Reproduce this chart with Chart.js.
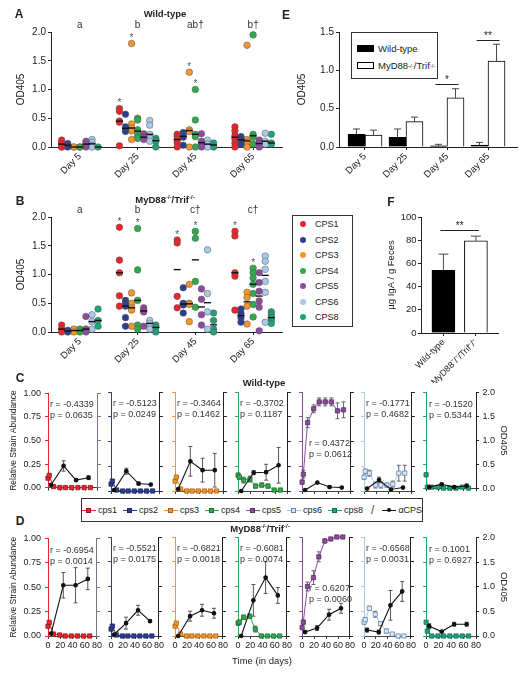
<!DOCTYPE html>
<html>
<head>
<meta charset="utf-8">
<script src="https://cdn.jsdelivr.net/npm/chart.js@4.4.1/dist/chart.umd.min.js"></script>
<style>
  body { margin: 0; background: #fff; font-family: "Liberation Sans", Arial, sans-serif; color: #222; }
  #fig { position: relative; width: 523px; height: 675px; overflow: hidden; }
  #fig canvas { position: absolute; }
  .t { position: absolute; transform: translate(-50%, -50%); white-space: nowrap; font-size: 9.5px; z-index: 2; }
  .b { font-weight: bold; }
  .L { font-weight: bold; font-size: 12px; }
  sup { font-size: 6px; vertical-align: 4px; line-height: 0; }
  .box { position: absolute; border: 1px solid #333; box-sizing: border-box; background: #fff; z-index: 2; font-size: 9px; }
  .row { position: absolute; left: 0; display: flex; align-items: center; white-space: nowrap; }
  .dot { display: inline-block; width: 6px; height: 6px; border-radius: 50%; margin: 0 9px 0 7px; }
  .sw { display: inline-block; width: 17px; height: 7px; box-sizing: border-box; border: 1px solid #000; margin: 0 4px 0 5px; }
  .mk { position: relative; display: inline-block; width: 14px; height: 7px; margin-right: 2px; }
  .mk i { position: absolute; left: 0; right: 0; top: 3px; height: 1px; }
  .mk b { position: absolute; left: 4px; top: 1px; width: 5px; height: 5px; box-sizing: border-box; border: 1px solid; }
  .mk u { position: absolute; left: 5px; top: 1.5px; width: 4px; height: 4px; border-radius: 50%; background: #111; }
</style>
</head>
<body>
<div id="fig">
  <div class="t L" style="left:19px;top:14px">A</div>
  <div class="t b" style="left:165px;top:13px">Wild-type</div>
  <div class="t L" style="left:20px;top:201px">B</div>
  <div class="t b" style="left:165px;top:199px">MyD88<sup>-/-</sup>/Trif<sup>-/-</sup></div>
  <div class="t L" style="left:286px;top:15px">E</div>
  <div class="t L" style="left:391px;top:202px">F</div>
  <div class="t L" style="left:20px;top:378px">C</div>
  <div class="t b" style="left:264px;top:382px">Wild-type</div>
  <div class="t L" style="left:20px;top:521px">D</div>
  <div class="t b" style="left:260px;top:528px">MyD88<sup>-/-</sup>/Trif<sup>-/-</sup></div>
  <div class="t" style="left:262px;top:660px">Time (in days)</div>

  <div class="box" style="left:351px;top:32px;width:87px;height:47px;font-size:9.5px">
    <div class="row" style="top:10px"><span class="sw" style="background:#000"></span>Wild-type</div>
    <div class="row" style="top:27px"><span class="sw" style="background:#fff"></span>MyD88<sup>-/-</sup>/Trif<sup>-/-</sup></div>
  </div>
  <div class="box" id="cpsLegend" style="left:292px;top:215px;width:61px;height:112px"></div>
  <div class="box" id="lineLegend" style="left:81px;top:498px;width:342px;height:24px;display:flex;align-items:center;justify-content:center;gap:6px"></div>
</div>
<script>
// ---- data ----
const days = ['Day 5', 'Day 25', 'Day 45', 'Day 65'];
const strains = ['CPS1', 'CPS2', 'CPS3', 'CPS4', 'CPS5', 'CPS6', 'CPS8'];

// panel A: anti-CPS IgA (OD405) per mouse, wild-type, [day5, day25, day45, day65]
const wtCps1 = [[0.12, 0.08, 0.05, 0.0, 0.0], [0.67, 0.62, 0.45, 0.43, 0.02], [0.22, 0.18, 0.13, 0.08, 0.0], [0.35, 0.28, 0.2, 0.14, 0.07, 0.0]];
const wtCps2 = [[0.06, 0.03, 0.0], [0.57, 0.35, 0.3, 0.27], [0.25, 0.2, 0.17, 0.03], [0.18, 0.15, 0.1, 0.05]];
const wtCps3 = [[0.0, 0.0], [1.8, 0.4, 0.33, 0.28, 0.13], [1.3, 0.3, 0.27, 0.0], [1.77, 0.13, 0.08, 0.0]];
const wtCps4 = [[0.0, 0.0], [0.5, 0.47, 0.3, 0.25, 0.18, 0.15], [1.0, 0.47, 0.22, 0.18, 0.0], [1.95, 0.22, 0.17, 0.05]];
const wtCps5 = [[0.1, 0.05, 0.0], [0.23, 0.17, 0.13], [0.23, 0.1, 0.05, 0.0], [0.12, 0.06, 0.0]];
const wtCps6 = [[0.13, 0.08, 0.03, 0.0], [0.46, 0.38, 0.22, 0.15, 0.1], [0.12, 0.05, 0.0], [0.24, 0.1, 0.05]];
const wtCps8 = [[0.0], [0.15, 0.12, 0.1, 0.0], [0.07, 0.0], [0.22, 0.07, 0.05]];

// panel B: same for MyD88-/-/Trif-/-
const koCps1 = [[0.12, 0.05, 0.0], [1.82, 1.25, 1.03, 0.63, 0.45], [1.6, 1.55, 0.62, 0.42], [1.75, 1.67, 1.03, 0.97, 0.38]];
const koCps2 = [[0.03, 0.0], [0.55, 0.5, 0.45, 0.25, 0.1], [0.77, 0.5, 0.47, 0.33], [0.4, 0.32, 0.25, 0.17]];
const koCps3 = [[0.05, 0.0], [0.68, 0.5, 0.42, 0.38, 0.1], [0.83, 0.5, 0.48, 0.18], [0.69, 0.6, 0.45, 0.14]];
const koCps4 = [[0.05, 0.0], [1.8, 1.08, 0.55, 0.12, 0.05], [1.75, 1.63, 0.88, 0.43], [1.11, 1.03, 0.94, 0.83, 0.67, 0.48, 0.26]];
const koCps5 = [[0.27, 0.05, 0.0], [0.42, 0.38, 0.35, 0.1], [0.75, 0.57, 0.3, 0.12], [1.03, 0.86, 0.71, 0.54, 0.43, 0.02]];
const koCps6 = [[0.3, 0.18, 0.05], [0.2, 0.15, 0.05], [1.43, 0.67, 0.35, 0.05], [1.32, 1.23, 1.09, 0.88, 0.69, 0.17]];
const koCps8 = [[0.4, 0.2, 0.1], [0.12, 0.08, 0.0], [0.33, 0.2, 0.05, 0.0], [0.35, 0.3, 0.25, 0.2, 0.15]];

const wtLetters = ['a', 'b', 'ab†', 'b†'];
const koLetters = ['a', 'b', 'c†', 'c†'];
const wtStars = [[1, 0], [1, 2], [2, 2], [2, 3]];          // [day, strain]
const koStars = [[1, 0], [1, 3], [2, 0], [2, 3], [3, 0], [3, 3]];

// panel E: mean anti-CPS OD405
const eWt = [0.165, 0.125, 0.015, 0.025];
const eWtErr = [0.07, 0.11, 0.02, 0.035];
const eKo = [0.155, 0.33, 0.64, 1.12];
const eKoErr = [0.065, 0.06, 0.12, 0.22];

// panel F: fecal IgA
const fLabels = ['Wild-type', 'MyD88⁻/⁻/Trif⁻/⁻'];
const fValues = [54, 79.5];
const fErrors = [14, 4];

// panels C/D: strain abundance over time and anti-CPS OD405
const strainDays = [0, 2, 9, 19, 28, 38, 48, 58, 68];
const odDays = [5, 25, 45, 65];
const cpsNames = ['cps1', 'cps2', 'cps3', 'cps4', 'cps5', 'cps6', 'cps8'];

const wtAbundance = [
  [0.10, 0.13, 0.01, 0, 0, 0, 0, 0, 0],
  [0.07, 0.10, 0.01, 0, 0, 0, 0, 0, 0],
  [0.10, 0.14, 0.02, 0, 0, 0, 0, 0, 0],
  [0.16, 0.14, 0.11, 0.12, 0.05, 0.06, 0.05, 0.01, 0.01],
  [0.09, 0.17, 0.69, 0.83, 0.90, 0.90, 0.90, 0.81, 0.82],
  [0.14, 0.20, 0.18, 0.06, 0.06, 0.06, 0.07, 0.18, 0.18],
  [0.14, 0.01, 0.01, 0.01, 0, 0, 0, 0.01, 0]
];
const wtAbundanceErr = [
  [0, 0, 0, 0, 0, 0, 0, 0, 0],
  [0, 0, 0, 0, 0, 0, 0, 0, 0],
  [0, 0, 0, 0, 0, 0, 0, 0, 0],
  [0.02, 0.02, 0.03, 0.03, 0.02, 0.02, 0.02, 0, 0],
  [0.02, 0.04, 0.05, 0.04, 0.04, 0.04, 0.04, 0.08, 0.08],
  [0.02, 0.02, 0.03, 0.03, 0.03, 0.02, 0.03, 0.08, 0.08],
  [0, 0, 0, 0, 0, 0, 0, 0, 0]
];
const wtAntiCps = [
  [0.06, 0.46, 0.16, 0.21],
  [0.02, 0.40, 0.15, 0.13],
  [0.04, 0.60, 0.42, 0.42],
  [0.0, 0.37, 0.38, 0.52],
  [0.02, 0.17, 0.08, 0.07],
  [0.05, 0.22, 0.03, 0.07],
  [0.02, 0.08, 0.02, 0.05]
];
const wtAntiCpsErr = [
  [0.02, 0.11, 0.03, 0.04],
  [0, 0.06, 0.03, 0],
  [0, 0.30, 0.24, 0.34],
  [0, 0.04, 0.16, 0.36],
  [0, 0, 0.02, 0],
  [0, 0.06, 0, 0],
  [0, 0.02, 0, 0.02]
];
const wtR = ['-0.4339', '-0.5123', '-0.3464', '-0.3702', '0.4372', '-0.1771', '-0.1520'];
const wtP = ['0.0635', '0.0249', '0.1462', '0.1187', '0.0612', '0.4682', '0.5344'];

const koAbundance = [
  [0.10, 0.14, 0.02, 0.01, 0, 0, 0, 0, 0],
  [0.07, 0.10, 0.01, 0, 0, 0, 0, 0, 0],
  [0.10, 0.13, 0.02, 0, 0, 0, 0, 0, 0],
  [0.13, 0.14, 0.19, 0.20, 0.07, 0, 0, 0, 0],
  [0.085, 0.14, 0.50, 0.59, 0.80, 0.96, 0.98, 1.0, 1.0],
  [0.14, 0.165, 0.28, 0.22, 0.125, 0.05, 0.02, 0, 0],
  [0.14, 0.05, 0, 0, 0, 0, 0, 0, 0]
];
const koAbundanceErr = [
  [0, 0, 0, 0, 0, 0, 0, 0, 0],
  [0, 0, 0, 0, 0, 0, 0, 0, 0],
  [0, 0, 0, 0, 0, 0, 0, 0, 0],
  [0.02, 0.02, 0.02, 0.02, 0.03, 0, 0, 0, 0],
  [0.01, 0.02, 0.045, 0.07, 0.05, 0.02, 0.01, 0, 0],
  [0.02, 0.02, 0.02, 0.03, 0.02, 0.02, 0.01, 0, 0],
  [0, 0, 0, 0, 0, 0, 0, 0, 0]
];
const koAntiCps = [
  [0.05, 1.04, 1.04, 1.17],
  [0.03, 0.26, 0.52, 0.30],
  [0.0, 0.40, 0.52, 0.46],
  [0.0, 0.72, 1.18, 0.82],
  [0.08, 0.16, 0.43, 0.56],
  [0.12, 0.08, 0.62, 0.90],
  [0.20, 0.09, 0.24, 0.24]
];
const koAntiCpsErr = [
  [0.02, 0.26, 0.36, 0.22],
  [0, 0.12, 0.10, 0.02],
  [0, 0.10, 0.12, 0.10],
  [0, 0.32, 0.32, 0.16],
  [0.03, 0.05, 0.11, 0.10],
  [0.04, 0.04, 0.30, 0.20],
  [0.05, 0.01, 0.04, 0.04]
];
const koR = ['-0.6954', '-0.5521', '-0.6821', '-0.6081', '0.6207', '-0.6568', '0.1001'];
const koP = ['0.0014', '0.0175', '0.0018', '0.0074', '0.0060', '0.0031', '0.6927'];

// ---- styles ----
const strainColors = ['#e8262b', '#2c3e92', '#f5962a', '#2faa4e', '#8d4b9f', '#a8c9ea', '#1ea27c'];
const strainEdges = ['#8e1518', '#19245a', '#a9611a', '#1b6e31', '#582d66', '#5f86b0', '#0f6b4f'];
const statPos = [[0.88, 2], [0.88, 2], [0.88, 2], [0.88, 2], [0.475, 7], [0.88, 2], [0.88, 3]];
const axL = [48, 110, 174, 237, 301, 363, 425];
const axR = [99, 161, 225, 289, 352, 413, 476];
const FONT = '"Liberation Sans", Arial, sans-serif';

Chart.defaults.font.family = FONT;
Chart.defaults.font.size = 9;
Chart.defaults.color = '#222';
Chart.defaults.plugins.legend.display = false;
Chart.defaults.plugins.tooltip.enabled = false;
Chart.defaults.animation = false;

const fig = document.getElementById('fig');
function place(left, top, width, height, config) {
  const c = document.createElement('canvas');
  c.width = width; c.height = height;
  c.style.left = left + 'px'; c.style.top = top + 'px';
  c.style.width = width + 'px'; c.style.height = height + 'px';
  fig.appendChild(c);
  config.options.responsive = false;
  config.options.devicePixelRatio = 1;
  return new Chart(c, config);
}

function grid(color, len) {
  return { drawOnChartArea: false, drawTicks: true, tickLength: len, color: color, offset: false };
}
function median(a) {
  const s = [...a].sort((p, q) => p - q), m = s.length >> 1;
  return s.length % 2 ? s[m] : (s[m - 1] + s[m]) / 2;
}

// error bars (drawn behind the marks)
const errorBars = {
  id: 'errorBars',
  beforeDatasetsDraw(chart) {
    const ctx = chart.ctx;
    chart.data.datasets.forEach((ds, i) => {
      if (!ds.errors) return;
      const meta = chart.getDatasetMeta(i);
      const ys = chart.scales[meta.yAxisID];
      ctx.save();
      ctx.strokeStyle = ds.errorColor || '#333';
      ctx.lineWidth = 0.9;
      meta.data.forEach((el, j) => {
        const e = ds.errors[j];
        if (!e) return;
        const raw = ds.data[j];
        const v = typeof raw === 'object' ? raw.y : raw;
        const top = ys.getPixelForValue(v + e);
        const bot = ds.errorUpOnly ? el.y : ys.getPixelForValue(v - e);
        const cap = ds.errorCap || 2;
        ctx.beginPath();
        ctx.moveTo(el.x, top); ctx.lineTo(el.x, bot);
        ctx.moveTo(el.x - cap, top); ctx.lineTo(el.x + cap, top);
        if (!ds.errorUpOnly) { ctx.moveTo(el.x - cap, bot); ctx.lineTo(el.x + cap, bot); }
        ctx.stroke();
      });
      ctx.restore();
    });
  }
};

// group letters + asterisks on the strip plots
const colStep = 0.105;
const colX = (g, s) => g + (s - 3) * colStep;
const stripNotes = {
  id: 'stripNotes',
  afterDatasetsDraw(chart, args, o) {
    const { ctx, chartArea, scales: { x, y } } = chart;
    ctx.save();
    ctx.fillStyle = '#333';
    ctx.textAlign = 'center';
    ctx.textBaseline = 'middle';
    ctx.font = '10px ' + FONT;
    o.letters.forEach((t, g) => ctx.fillText(t, x.getPixelForValue(g), chartArea.top - 7));
    ctx.fillStyle = '#555';
    o.stars.forEach(([g, s]) => {
      const top = Math.max(...o.series[s][g]);
      ctx.fillText('*', x.getPixelForValue(colX(g, s)), y.getPixelForValue(top) - 5);
    });
    ctx.restore();
  }
};

// significance brackets on E and F
const sigMarks = {
  id: 'sig',
  afterDatasetsDraw(chart, args, o) {
    const ctx = chart.ctx;
    ctx.save();
    ctx.strokeStyle = '#222'; ctx.fillStyle = '#222'; ctx.lineWidth = 1;
    ctx.textAlign = 'center'; ctx.textBaseline = 'alphabetic';
    ctx.font = '10px ' + FONT;
    o.marks.forEach(m => {
      const a = chart.getDatasetMeta(m.a[0]).data[m.a[1]];
      const b = chart.getDatasetMeta(m.b[0]).data[m.b[1]];
      const yy = Math.round(chart.scales.y.getPixelForValue(m.v)) + 0.5;
      ctx.beginPath(); ctx.moveTo(a.x - 3, yy); ctx.lineTo(b.x + 3, yy); ctx.stroke();
      ctx.fillText(m.t, (a.x + b.x) / 2, yy - 2);
    });
    ctx.restore();
  }
};

// r / p text in C and D
const statText = {
  id: 'stat',
  afterDraw(chart, args, o) {
    const { ctx, chartArea, scales: { y } } = chart;
    ctx.save();
    ctx.font = '9px ' + FONT; ctx.fillStyle = '#333';
    ctx.textAlign = 'left'; ctx.textBaseline = 'middle';
    const yy = y.getPixelForValue(o.at);
    ctx.fillText('r = ' + o.r, chartArea.left + o.dx, yy);
    ctx.fillText('p = ' + o.p, chartArea.left + o.dx, yy + 11);
    ctx.restore();
  }
};

// ---- panels A and B ----
function stripChart(top, series, letters, stars) {
  const med = [];
  series.forEach((ser, s) => ser.forEach((vals, g) => med.push({ x: colX(g, s), y: median(vals) })));
  const datasets = [{ data: med, pointStyle: 'line', pointRadius: 3.5, pointBorderColor: '#111', pointBorderWidth: 1.4, clip: false }];
  series.forEach((ser, s) => {
    const pts = [];
    ser.forEach((vals, g) => vals.forEach(v => pts.push({ x: colX(g, s), y: v })));
    datasets.push({ data: pts, pointRadius: 3.3, pointBackgroundColor: strainColors[s], pointBorderColor: '#555', pointBorderWidth: 0.5, clip: false });
  });
  place(0, top - 20, 290, 180, {
    type: 'scatter',
    data: { datasets },
    options: {
      layout: { padding: { top: 20, right: 8 } },
      scales: {
        x: {
          type: 'linear', min: -0.5, max: 3.5,
          afterBuildTicks: s => { s.ticks = days.map((d, i) => ({ value: i })); },
          afterFit: s => { s.height = 45; },
          grid: grid('#222', 3), border: { color: '#222' },
          ticks: { callback: (v, i) => days[i], minRotation: 45, maxRotation: 45, autoSkip: false, padding: 1, font: { size: 9.5 } }
        },
        y: {
          min: 0, max: 2,
          afterFit: s => { s.width = 51; },
          grid: grid('#222', 3), border: { color: '#222' },
          ticks: { stepSize: 0.5, callback: v => v.toFixed(1), padding: 2, font: { size: 10 } },
          title: { display: true, text: 'OD405', font: { size: 10 }, padding: { top: 15.5 } }
        }
      },
      plugins: { stripNotes: { letters, stars, series } }
    },
    plugins: [stripNotes]
  });
}
stripChart(32, [wtCps1, wtCps2, wtCps3, wtCps4, wtCps5, wtCps6, wtCps8], wtLetters, wtStars);
stripChart(217, [koCps1, koCps2, koCps3, koCps4, koCps5, koCps6, koCps8], koLetters, koStars);

// ---- panel E ----
place(295, 12, 227, 180, {
  type: 'bar',
  data: {
    datasets: [
      { data: eWt.map((v, i) => ({ x: i, y: v })), backgroundColor: '#000', borderColor: '#000', borderWidth: 1, barThickness: 17, errors: eWtErr, errorUpOnly: true, errorCap: 3.5 },
      { data: eKo.map((v, i) => ({ x: i, y: v })), backgroundColor: '#fff', borderColor: '#000', borderWidth: 1, barThickness: 17, errors: eKoErr, errorUpOnly: true, errorCap: 3.5 }
    ]
  },
  options: {
    layout: { padding: { top: 20, right: 5 } },
    scales: {
      x: {
        type: 'linear', min: -0.634, max: 3.707, offset: false,
        afterBuildTicks: s => { s.ticks = days.map((d, i) => ({ value: i })); },
        afterFit: s => { s.height = 45; },
        grid: grid('#222', 3), border: { color: '#222' },
        ticks: { callback: (v, i) => days[i], minRotation: 45, maxRotation: 45, autoSkip: false, padding: 1, font: { size: 9.5 } }
      },
      y: {
        min: 0, max: 1.5,
        afterFit: s => { s.width = 44; },
        grid: grid('#222', 3), border: { color: '#222' },
        ticks: { stepSize: 0.5, callback: v => v.toFixed(1), padding: 2, font: { size: 10 } },
        title: { display: true, text: 'OD405', font: { size: 10 }, padding: { top: 1 } }
      }
    },
    plugins: { sig: { marks: [{ a: [0, 2], b: [1, 2], v: 0.82, t: '*' }, { a: [0, 3], b: [1, 3], v: 1.40, t: '**' }] } }
  },
  plugins: [errorBars, sigMarks]
});

// ---- panel F ----
place(384, 197, 124, 186, {
  type: 'bar',
  data: {
    datasets: [{ data: fValues.map((v, i) => ({ x: i, y: v })), backgroundColor: ['#000', '#fff'], borderColor: '#000', borderWidth: 1, barThickness: 23, errors: fErrors, errorUpOnly: true, errorCap: 5 }]
  },
  options: {
    layout: { padding: { top: 20, right: 10 } },
    scales: {
      x: {
        type: 'linear', min: -0.69, max: 1.68, offset: false,
        afterBuildTicks: s => { s.ticks = fLabels.map((d, i) => ({ value: i })); },
        afterFit: s => { s.height = 50; },
        grid: grid('#222', 3), border: { color: '#222' },
        ticks: { callback: (v, i) => fLabels[i], minRotation: 45, maxRotation: 45, autoSkip: false, padding: 1, font: { size: 9 } }
      },
      y: {
        min: 0, max: 100,
        afterFit: s => { s.width = 37; },
        grid: grid('#222', 3), border: { color: '#222' },
        ticks: { stepSize: 20, padding: 1.5, font: { size: 9.5 } },
        title: { display: true, text: 'µg IgA / g Feces', font: { size: 9.5 }, padding: { top: 1.5 } }
      }
    },
    plugins: { sig: { marks: [{ a: [0, 0], b: [0, 1], v: 89, t: '**' }] } }
  },
  plugins: [errorBars, sigMarks]
});

// ---- panels C and D ----
function timeRow(top, withLabels, abund, abundErr, anti, antiErr, rs, ps) {
  for (let i = 0; i < 7; i++) {
    const first = i === 0, last = i === 6;
    const yW = first ? 48 : 4, y2W = last ? 45 : 4, xH = withLabels ? 16 : 6;
    const L = axL[i], R = axR[i];
    const rightColor = first ? '#777' : '#222';
    place(L - yW, top - 8, yW + (R - L) + y2W, 8 + 99 + xH, {
      type: 'line',
      data: {
        datasets: [
          {
            data: odDays.map((d, j) => ({ x: d, y: anti[i][j] })), yAxisID: 'y2',
            borderColor: '#111', borderWidth: 1.1, pointRadius: 1.8, pointBackgroundColor: '#111', pointBorderColor: '#111',
            errors: antiErr[i], errorColor: '#444', clip: false
          },
          {
            data: strainDays.map((d, j) => ({ x: d, y: abund[i][j] })), yAxisID: 'y',
            borderColor: strainColors[i], borderWidth: 1, pointStyle: 'rect', pointRadius: 3,
            pointBackgroundColor: i === 5 ? '#dbe8f5' : strainColors[i], pointBorderColor: strainEdges[i], pointBorderWidth: 0.8,
            errors: abundErr[i], errorColor: '#555', clip: false
          }
        ]
      },
      options: {
        layout: { padding: { top: 8 } },
        scales: {
          x: {
            type: 'linear', min: 0, max: 80,
            afterFit: s => { s.height = xH; },
            grid: grid('#333', 3), border: { color: '#444' },
            ticks: { display: withLabels, stepSize: 20, autoSkip: false, maxRotation: 0, padding: 1, font: { size: 9 } }
          },
          y: {
            position: 'left', min: 0, max: 1,
            afterFit: s => { s.width = yW; },
            grid: grid(strainColors[i], 3), border: { color: strainColors[i] },
            ticks: { display: first, stepSize: 0.25, callback: v => v.toFixed(2), padding: 4, font: { size: 9 } },
            title: { display: first, text: 'Relative Strain Abundance', font: { size: 8.5 }, padding: { top: 9 } }
          },
          y2: {
            position: 'right', min: 0, max: 2,
            afterFit: s => { s.width = y2W; },
            grid: grid(rightColor, 3), border: { color: rightColor },
            ticks: { display: last, stepSize: 0.5, callback: v => v.toFixed(1), padding: 3.5, font: { size: 9 } },
            title: { display: last, text: 'OD405', font: { size: 9.5 }, padding: { top: 12 } }
          }
        },
        plugins: { stat: { r: rs[i], p: ps[i], at: statPos[i][0], dx: statPos[i][1] } }
      },
      plugins: [errorBars, statText]
    });
  }
}
timeRow(392, false, wtAbundance, wtAbundanceErr, wtAntiCps, wtAntiCpsErr, wtR, wtP);
timeRow(537, true, koAbundance, koAbundanceErr, koAntiCps, koAntiCpsErr, koR, koP);

// ---- HTML legends ----
const cpsLegend = document.getElementById('cpsLegend');
strains.forEach((s, i) => {
  const r = document.createElement('div');
  r.className = 'row';
  r.style.top = (3 + i * 15.5) + 'px';
  r.innerHTML = `<span class="dot" style="background:${strainColors[i]}"></span>${s}`;
  cpsLegend.appendChild(r);
});
const lineLegend = document.getElementById('lineLegend');
cpsNames.forEach((n, i) => {
  const fill = i === 5 ? '#dbe8f5' : strainColors[i];
  lineLegend.insertAdjacentHTML('beforeend',
    `<span style="display:flex;align-items:center"><span class="mk"><i style="background:${strainColors[i]}"></i><b style="background:${fill};border-color:${strainEdges[i]}"></b></span>${n}</span>`);
});
lineLegend.insertAdjacentHTML('beforeend', '<span style="font-size:12px;color:#444;margin:0 2px">/</span>');
lineLegend.insertAdjacentHTML('beforeend',
  '<span style="display:flex;align-items:center"><span class="mk"><i style="background:#111"></i><u></u></span>αCPS</span>');
</script>
</body>
</html>
